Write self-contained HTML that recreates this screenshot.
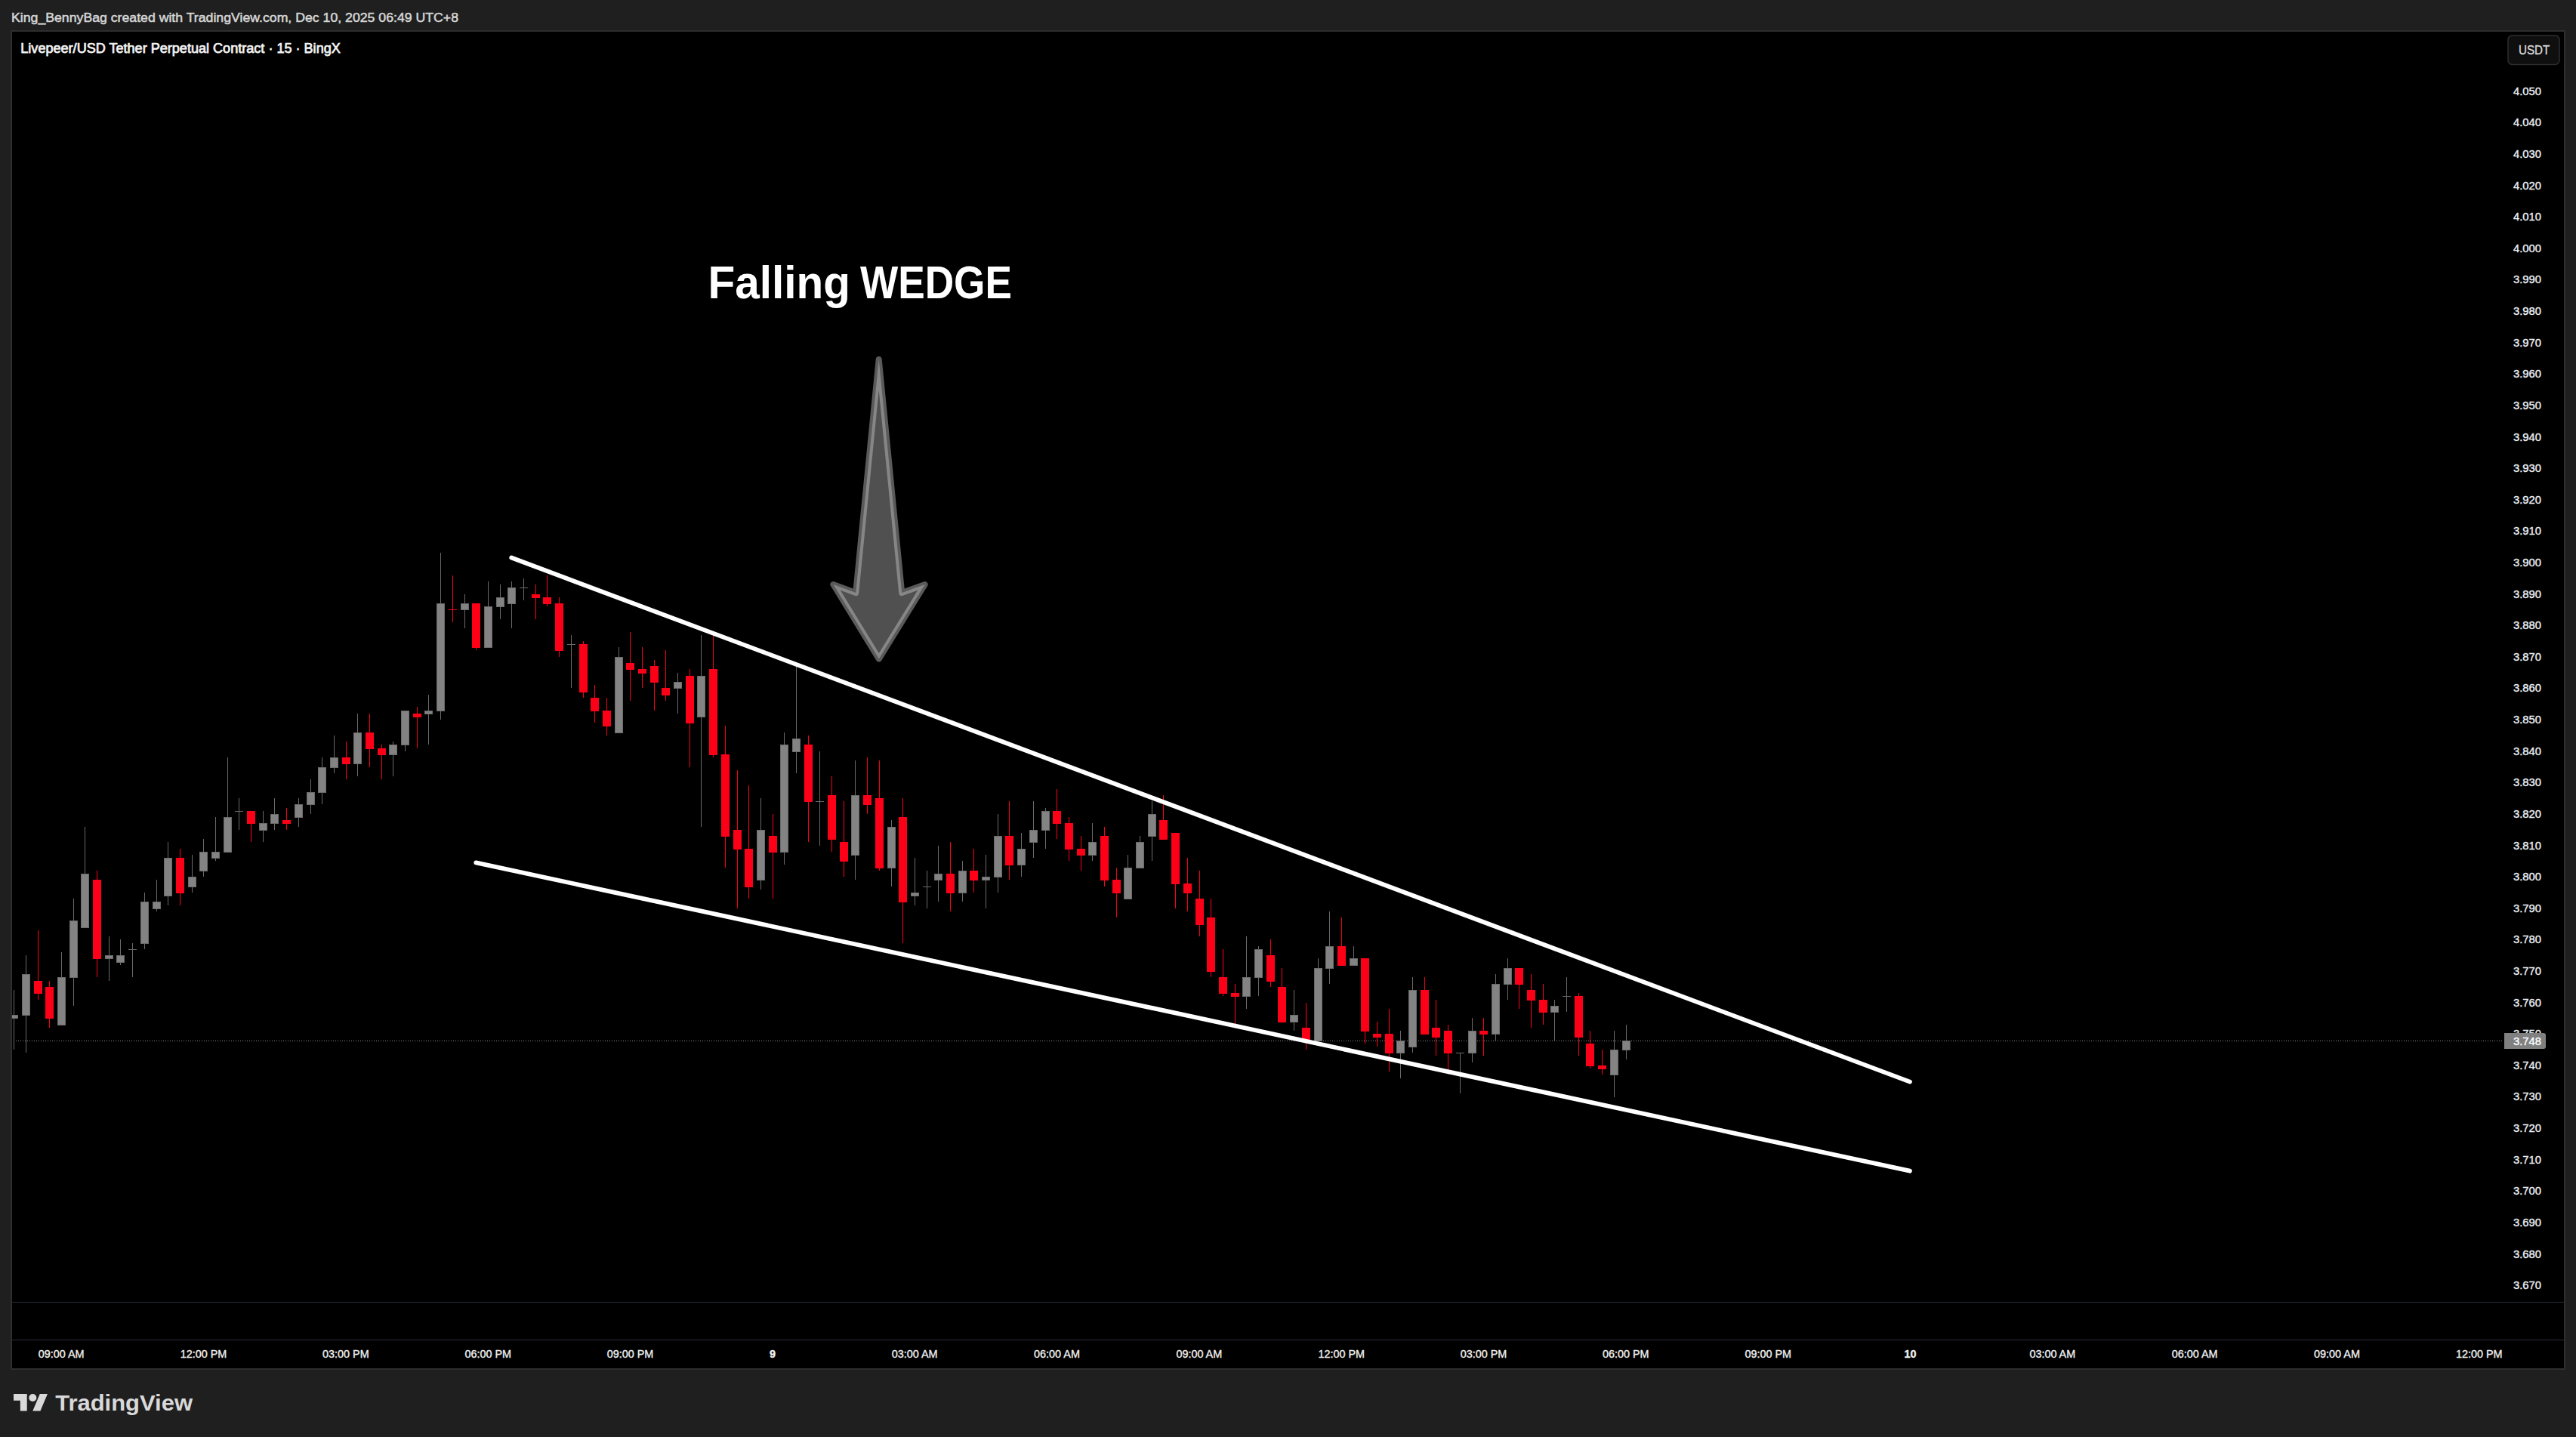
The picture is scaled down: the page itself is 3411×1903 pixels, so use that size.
<!DOCTYPE html>
<html lang="en"><head><meta charset="utf-8"><title>Falling WEDGE - TradingView</title>
<style>
html,body{margin:0;padding:0;background:#1f1f1f;}
body{width:3411px;height:1903px;overflow:hidden;position:relative;font-family:"Liberation Sans",sans-serif;}
#chart{position:absolute;left:14px;top:40px;width:3379px;height:1770px;border:2px solid #2e2e2e;background:#000;}
svg{position:absolute;left:0;top:0;}
svg text{font-family:"Liberation Sans",sans-serif;}
</style></head><body>
<div id="chart"></div>
<svg width="3411" height="1903" viewBox="0 0 3411 1903">
<defs>
<clipPath id="pane"><rect x="16" y="42" width="3379" height="1682"/></clipPath>
<clipPath id="arrowclip"><path d="M1163.7 476L1194.2 785L1224.7 774L1163.8 872.6L1103.4 774L1133.2 785Z"/></clipPath>
</defs>
<text x="15" y="29" font-size="17.3" fill="#d4d4d4" stroke="#d4d4d4" stroke-width="0.55" textLength="592" lengthAdjust="spacingAndGlyphs" id="hdr">King_BennyBag created with TradingView.com, Dec 10, 2025 06:49 UTC+8</text>
<text x="27.3" y="70.1" font-size="17.9" fill="#f2f2f2" stroke="#f2f2f2" stroke-width="0.75" textLength="423.5" lengthAdjust="spacingAndGlyphs" id="ttl">Livepeer/USD Tether Perpetual Contract · 15 · BingX</text>
<!-- separators -->
<rect x="16" y="1724" width="3379" height="1" fill="#2a2e39"/>
<rect x="16" y="1774" width="3379" height="1" fill="#2a2e39"/>
<!-- current price dotted line -->
<line x1="18" y1="1378.5" x2="3313" y2="1378.5" stroke="#8e8e8e" stroke-width="1" stroke-dasharray="1 2" shape-rendering="crispEdges"/>
<g clip-path="url(#pane)" shape-rendering="crispEdges">
<path fill="#6a6a6a" d="M18 1311h1V1390h-1zM13 1344h11V1349h-11z"/>
<path fill="#838383" d="M14 1345h9V1348h-9z"/>
<path fill="#6a6a6a" d="M34 1265h1V1394h-1zM29 1290h11V1345h-11z"/>
<path fill="#838383" d="M30 1291h9V1344h-9z"/>
<path fill="#fd0017" d="M50 1232h1V1324h-1zM45 1299h11V1316h-11z"/>
<path fill="#fd0017" d="M65 1299h1V1361h-1zM60 1307h11V1349h-11z"/>
<path fill="#6a6a6a" d="M81 1261h1V1358h-1zM76 1294h11V1358h-11z"/>
<path fill="#838383" d="M77 1295h9V1357h-9z"/>
<path fill="#6a6a6a" d="M97 1190h1V1332h-1zM92 1219h11V1295h-11z"/>
<path fill="#838383" d="M93 1220h9V1294h-9z"/>
<path fill="#6a6a6a" d="M112 1095h1V1229h-1zM107 1157h11V1229h-11z"/>
<path fill="#838383" d="M108 1158h9V1228h-9z"/>
<path fill="#fd0017" d="M128 1153h1V1294h-1zM123 1165h11V1270h-11z"/>
<path fill="#6a6a6a" d="M144 1240h1V1299h-1zM139 1265h11V1270h-11z"/>
<path fill="#838383" d="M140 1266h9V1269h-9z"/>
<path fill="#6a6a6a" d="M159 1244h1V1278h-1zM154 1265h11V1275h-11z"/>
<path fill="#838383" d="M155 1266h9V1274h-9z"/>
<path fill="#6a6a6a" d="M175 1249h1V1294h-1zM170 1257h11V1258h-11z"/>
<path fill="#6a6a6a" d="M191 1182h1V1257h-1zM186 1194h11V1250h-11z"/>
<path fill="#838383" d="M187 1195h9V1249h-9z"/>
<path fill="#6a6a6a" d="M207 1165h1V1207h-1zM202 1194h11V1204h-11z"/>
<path fill="#838383" d="M203 1195h9V1203h-9z"/>
<path fill="#6a6a6a" d="M222 1115h1V1199h-1zM217 1136h11V1187h-11z"/>
<path fill="#838383" d="M218 1137h9V1186h-9z"/>
<path fill="#fd0017" d="M238 1124h1V1199h-1zM233 1136h11V1183h-11z"/>
<path fill="#6a6a6a" d="M254 1132h1V1182h-1zM249 1161h11V1175h-11z"/>
<path fill="#838383" d="M250 1162h9V1174h-9z"/>
<path fill="#6a6a6a" d="M269 1111h1V1161h-1zM264 1128h11V1154h-11z"/>
<path fill="#838383" d="M265 1129h9V1153h-9z"/>
<path fill="#6a6a6a" d="M285 1082h1V1140h-1zM280 1128h11V1137h-11z"/>
<path fill="#838383" d="M281 1129h9V1136h-9z"/>
<path fill="#6a6a6a" d="M301 1003h1V1129h-1zM296 1082h11V1129h-11z"/>
<path fill="#838383" d="M297 1083h9V1128h-9z"/>
<path fill="#6a6a6a" d="M316 1057h1V1099h-1zM311 1074h11V1075h-11z"/>
<path fill="#fd0017" d="M332 1074h1V1115h-1zM327 1074h11V1091h-11z"/>
<path fill="#6a6a6a" d="M348 1074h1V1115h-1zM343 1090h11V1100h-11z"/>
<path fill="#838383" d="M344 1091h9V1099h-9z"/>
<path fill="#6a6a6a" d="M363 1057h1V1099h-1zM358 1078h11V1091h-11z"/>
<path fill="#838383" d="M359 1079h9V1090h-9z"/>
<path fill="#fd0017" d="M379 1070h1V1099h-1zM374 1086h11V1091h-11z"/>
<path fill="#6a6a6a" d="M395 1057h1V1095h-1zM390 1065h11V1083h-11z"/>
<path fill="#838383" d="M391 1066h9V1082h-9z"/>
<path fill="#6a6a6a" d="M411 1032h1V1078h-1zM406 1049h11V1066h-11z"/>
<path fill="#838383" d="M407 1050h9V1065h-9z"/>
<path fill="#6a6a6a" d="M426 1003h1V1065h-1zM421 1016h11V1050h-11z"/>
<path fill="#838383" d="M422 1017h9V1049h-9z"/>
<path fill="#6a6a6a" d="M442 974h1V1024h-1zM437 1003h11V1017h-11z"/>
<path fill="#838383" d="M438 1004h9V1016h-9z"/>
<path fill="#fd0017" d="M458 982h1V1032h-1zM453 1003h11V1012h-11z"/>
<path fill="#6a6a6a" d="M473 945h1V1028h-1zM468 970h11V1012h-11z"/>
<path fill="#838383" d="M469 971h9V1011h-9z"/>
<path fill="#fd0017" d="M489 945h1V1016h-1zM484 970h11V992h-11z"/>
<path fill="#fd0017" d="M505 986h1V1032h-1zM500 991h11V1000h-11z"/>
<path fill="#6a6a6a" d="M520 982h1V1028h-1zM515 986h11V1000h-11z"/>
<path fill="#838383" d="M516 987h9V999h-9z"/>
<path fill="#6a6a6a" d="M536 941h1V995h-1zM531 941h11V987h-11z"/>
<path fill="#838383" d="M532 942h9V986h-9z"/>
<path fill="#fd0017" d="M552 936h1V991h-1zM547 945h11V950h-11z"/>
<path fill="#6a6a6a" d="M567 920h1V986h-1zM562 941h11V946h-11z"/>
<path fill="#838383" d="M563 942h9V945h-9z"/>
<path fill="#6a6a6a" d="M583 732h1V953h-1zM578 799h11V942h-11z"/>
<path fill="#838383" d="M579 800h9V941h-9z"/>
<path fill="#fd0017" d="M599 762h1V824h-1zM594 807h11V808h-11z"/>
<path fill="#6a6a6a" d="M615 787h1V832h-1zM610 799h11V808h-11z"/>
<path fill="#838383" d="M611 800h9V807h-9z"/>
<path fill="#fd0017" d="M630 799h1V861h-1zM625 799h11V858h-11z"/>
<path fill="#6a6a6a" d="M646 770h1V858h-1zM641 803h11V858h-11z"/>
<path fill="#838383" d="M642 804h9V857h-9z"/>
<path fill="#6a6a6a" d="M662 774h1V820h-1zM657 791h11V804h-11z"/>
<path fill="#838383" d="M658 792h9V803h-9z"/>
<path fill="#6a6a6a" d="M677 770h1V832h-1zM672 778h11V800h-11z"/>
<path fill="#838383" d="M673 779h9V799h-9z"/>
<path fill="#6a6a6a" d="M693 766h1V795h-1zM688 778h11V779h-11z"/>
<path fill="#fd0017" d="M709 774h1V820h-1zM704 787h11V792h-11z"/>
<path fill="#fd0017" d="M724 762h1V803h-1zM719 791h11V800h-11z"/>
<path fill="#fd0017" d="M740 791h1V870h-1zM735 799h11V862h-11z"/>
<path fill="#6a6a6a" d="M756 841h1V911h-1zM751 853h11V854h-11z"/>
<path fill="#fd0017" d="M772 849h1V924h-1zM767 853h11V917h-11z"/>
<path fill="#fd0017" d="M787 907h1V957h-1zM782 924h11V942h-11z"/>
<path fill="#fd0017" d="M803 924h1V974h-1zM798 941h11V962h-11z"/>
<path fill="#6a6a6a" d="M819 857h1V971h-1zM814 870h11V971h-11z"/>
<path fill="#838383" d="M815 871h9V970h-9z"/>
<path fill="#fd0017" d="M834 837h1V928h-1zM829 878h11V887h-11z"/>
<path fill="#fd0017" d="M850 857h1V911h-1zM845 886h11V892h-11z"/>
<path fill="#fd0017" d="M866 874h1V941h-1zM861 882h11V904h-11z"/>
<path fill="#fd0017" d="M881 861h1V928h-1zM876 911h11V921h-11z"/>
<path fill="#6a6a6a" d="M897 891h1V945h-1zM892 903h11V912h-11z"/>
<path fill="#838383" d="M893 904h9V911h-9z"/>
<path fill="#fd0017" d="M913 886h1V1016h-1zM908 895h11V958h-11z"/>
<path fill="#6a6a6a" d="M928 841h1V1095h-1zM923 895h11V950h-11z"/>
<path fill="#838383" d="M924 896h9V949h-9z"/>
<path fill="#fd0017" d="M944 841h1V1003h-1zM939 886h11V1000h-11z"/>
<path fill="#fd0017" d="M960 961h1V1149h-1zM955 999h11V1108h-11z"/>
<path fill="#fd0017" d="M976 1020h1V1203h-1zM971 1099h11V1125h-11z"/>
<path fill="#fd0017" d="M991 1040h1V1190h-1zM986 1124h11V1175h-11z"/>
<path fill="#6a6a6a" d="M1007 1057h1V1178h-1zM1002 1099h11V1166h-11z"/>
<path fill="#838383" d="M1003 1100h9V1165h-9z"/>
<path fill="#fd0017" d="M1023 1078h1V1190h-1zM1018 1107h11V1129h-11z"/>
<path fill="#6a6a6a" d="M1038 970h1V1145h-1zM1033 986h11V1129h-11z"/>
<path fill="#838383" d="M1034 987h9V1128h-9z"/>
<path fill="#6a6a6a" d="M1054 882h1V1024h-1zM1049 978h11V996h-11z"/>
<path fill="#838383" d="M1050 979h9V995h-9z"/>
<path fill="#fd0017" d="M1070 974h1V1115h-1zM1065 986h11V1062h-11z"/>
<path fill="#6a6a6a" d="M1085 995h1V1120h-1zM1080 1061h11V1062h-11z"/>
<path fill="#fd0017" d="M1101 1028h1V1128h-1zM1096 1053h11V1112h-11z"/>
<path fill="#fd0017" d="M1117 1061h1V1161h-1zM1112 1115h11V1141h-11z"/>
<path fill="#6a6a6a" d="M1132 1007h1V1165h-1zM1127 1053h11V1133h-11z"/>
<path fill="#838383" d="M1128 1054h9V1132h-9z"/>
<path fill="#fd0017" d="M1148 1003h1V1078h-1zM1143 1053h11V1066h-11z"/>
<path fill="#fd0017" d="M1164 1007h1V1153h-1zM1159 1057h11V1150h-11z"/>
<path fill="#6a6a6a" d="M1180 1086h1V1174h-1zM1175 1095h11V1150h-11z"/>
<path fill="#838383" d="M1176 1096h9V1149h-9z"/>
<path fill="#fd0017" d="M1195 1057h1V1249h-1zM1190 1082h11V1195h-11z"/>
<path fill="#6a6a6a" d="M1211 1136h1V1199h-1zM1206 1182h11V1187h-11z"/>
<path fill="#838383" d="M1207 1183h9V1186h-9z"/>
<path fill="#6a6a6a" d="M1227 1153h1V1203h-1zM1222 1174h11V1175h-11z"/>
<path fill="#6a6a6a" d="M1242 1120h1V1194h-1zM1237 1157h11V1166h-11z"/>
<path fill="#838383" d="M1238 1158h9V1165h-9z"/>
<path fill="#fd0017" d="M1258 1115h1V1207h-1zM1253 1157h11V1183h-11z"/>
<path fill="#6a6a6a" d="M1274 1140h1V1194h-1zM1269 1153h11V1183h-11z"/>
<path fill="#838383" d="M1270 1154h9V1182h-9z"/>
<path fill="#fd0017" d="M1289 1124h1V1182h-1zM1284 1153h11V1166h-11z"/>
<path fill="#6a6a6a" d="M1305 1132h1V1203h-1zM1300 1161h11V1166h-11z"/>
<path fill="#838383" d="M1301 1162h9V1165h-9z"/>
<path fill="#6a6a6a" d="M1321 1078h1V1182h-1zM1316 1107h11V1162h-11z"/>
<path fill="#838383" d="M1317 1108h9V1161h-9z"/>
<path fill="#fd0017" d="M1336 1061h1V1165h-1zM1331 1107h11V1146h-11z"/>
<path fill="#6a6a6a" d="M1352 1103h1V1161h-1zM1347 1124h11V1146h-11z"/>
<path fill="#838383" d="M1348 1125h9V1145h-9z"/>
<path fill="#6a6a6a" d="M1368 1061h1V1136h-1zM1363 1099h11V1116h-11z"/>
<path fill="#838383" d="M1364 1100h9V1115h-9z"/>
<path fill="#6a6a6a" d="M1384 1070h1V1124h-1zM1379 1074h11V1100h-11z"/>
<path fill="#838383" d="M1380 1075h9V1099h-9z"/>
<path fill="#fd0017" d="M1399 1045h1V1111h-1zM1394 1074h11V1091h-11z"/>
<path fill="#fd0017" d="M1415 1082h1V1140h-1zM1410 1090h11V1125h-11z"/>
<path fill="#fd0017" d="M1431 1107h1V1153h-1zM1426 1124h11V1133h-11z"/>
<path fill="#6a6a6a" d="M1446 1090h1V1140h-1zM1441 1115h11V1133h-11z"/>
<path fill="#838383" d="M1442 1116h9V1132h-9z"/>
<path fill="#fd0017" d="M1462 1095h1V1174h-1zM1457 1107h11V1166h-11z"/>
<path fill="#fd0017" d="M1478 1149h1V1215h-1zM1473 1165h11V1183h-11z"/>
<path fill="#6a6a6a" d="M1493 1132h1V1191h-1zM1488 1149h11V1191h-11z"/>
<path fill="#838383" d="M1489 1150h9V1190h-9z"/>
<path fill="#6a6a6a" d="M1509 1107h1V1150h-1zM1504 1115h11V1150h-11z"/>
<path fill="#838383" d="M1505 1116h9V1149h-9z"/>
<path fill="#6a6a6a" d="M1525 1061h1V1140h-1zM1520 1078h11V1108h-11z"/>
<path fill="#838383" d="M1521 1079h9V1107h-9z"/>
<path fill="#fd0017" d="M1540 1053h1V1112h-1zM1535 1086h11V1112h-11z"/>
<path fill="#fd0017" d="M1556 1103h1V1203h-1zM1551 1103h11V1171h-11z"/>
<path fill="#fd0017" d="M1572 1136h1V1207h-1zM1567 1170h11V1183h-11z"/>
<path fill="#fd0017" d="M1588 1153h1V1240h-1zM1583 1190h11V1225h-11z"/>
<path fill="#fd0017" d="M1603 1190h1V1294h-1zM1598 1215h11V1287h-11z"/>
<path fill="#fd0017" d="M1619 1257h1V1319h-1zM1614 1294h11V1316h-11z"/>
<path fill="#fd0017" d="M1635 1303h1V1361h-1zM1630 1315h11V1320h-11z"/>
<path fill="#6a6a6a" d="M1650 1240h1V1336h-1zM1645 1294h11V1320h-11z"/>
<path fill="#838383" d="M1646 1295h9V1319h-9z"/>
<path fill="#6a6a6a" d="M1666 1253h1V1319h-1zM1661 1257h11V1295h-11z"/>
<path fill="#838383" d="M1662 1258h9V1294h-9z"/>
<path fill="#fd0017" d="M1682 1244h1V1307h-1zM1677 1265h11V1300h-11z"/>
<path fill="#fd0017" d="M1697 1282h1V1354h-1zM1692 1307h11V1354h-11z"/>
<path fill="#6a6a6a" d="M1713 1311h1V1365h-1zM1708 1344h11V1354h-11z"/>
<path fill="#838383" d="M1709 1345h9V1353h-9z"/>
<path fill="#fd0017" d="M1729 1328h1V1390h-1zM1724 1361h11V1379h-11z"/>
<path fill="#6a6a6a" d="M1745 1269h1V1379h-1zM1740 1282h11V1379h-11z"/>
<path fill="#838383" d="M1741 1283h9V1378h-9z"/>
<path fill="#6a6a6a" d="M1760 1207h1V1303h-1zM1755 1253h11V1283h-11z"/>
<path fill="#838383" d="M1756 1254h9V1282h-9z"/>
<path fill="#fd0017" d="M1776 1215h1V1279h-1zM1771 1253h11V1279h-11z"/>
<path fill="#6a6a6a" d="M1792 1253h1V1279h-1zM1787 1269h11V1279h-11z"/>
<path fill="#838383" d="M1788 1270h9V1278h-9z"/>
<path fill="#fd0017" d="M1807 1269h1V1382h-1zM1802 1269h11V1366h-11z"/>
<path fill="#fd0017" d="M1823 1353h1V1386h-1zM1818 1369h11V1374h-11z"/>
<path fill="#fd0017" d="M1839 1336h1V1419h-1zM1834 1369h11V1395h-11z"/>
<path fill="#6a6a6a" d="M1854 1365h1V1428h-1zM1849 1378h11V1395h-11z"/>
<path fill="#838383" d="M1850 1379h9V1394h-9z"/>
<path fill="#6a6a6a" d="M1870 1294h1V1394h-1zM1865 1311h11V1387h-11z"/>
<path fill="#838383" d="M1866 1312h9V1386h-9z"/>
<path fill="#fd0017" d="M1886 1294h1V1370h-1zM1881 1311h11V1370h-11z"/>
<path fill="#fd0017" d="M1901 1324h1V1398h-1zM1896 1361h11V1374h-11z"/>
<path fill="#fd0017" d="M1917 1357h1V1423h-1zM1912 1365h11V1395h-11z"/>
<path fill="#6a6a6a" d="M1933 1394h1V1448h-1zM1928 1394h11V1395h-11z"/>
<path fill="#6a6a6a" d="M1949 1348h1V1407h-1zM1944 1365h11V1395h-11z"/>
<path fill="#838383" d="M1945 1366h9V1394h-9z"/>
<path fill="#fd0017" d="M1964 1348h1V1398h-1zM1959 1365h11V1370h-11z"/>
<path fill="#6a6a6a" d="M1980 1290h1V1379h-1zM1975 1303h11V1370h-11z"/>
<path fill="#838383" d="M1976 1304h9V1369h-9z"/>
<path fill="#6a6a6a" d="M1996 1269h1V1324h-1zM1991 1282h11V1304h-11z"/>
<path fill="#838383" d="M1992 1283h9V1303h-9z"/>
<path fill="#fd0017" d="M2011 1282h1V1336h-1zM2006 1282h11V1304h-11z"/>
<path fill="#fd0017" d="M2027 1290h1V1361h-1zM2022 1311h11V1325h-11z"/>
<path fill="#fd0017" d="M2043 1303h1V1357h-1zM2038 1324h11V1341h-11z"/>
<path fill="#6a6a6a" d="M2058 1324h1V1379h-1zM2053 1332h11V1341h-11z"/>
<path fill="#838383" d="M2054 1333h9V1340h-9z"/>
<path fill="#6a6a6a" d="M2074 1294h1V1340h-1zM2069 1319h11V1320h-11z"/>
<path fill="#fd0017" d="M2090 1315h1V1398h-1zM2085 1319h11V1374h-11z"/>
<path fill="#fd0017" d="M2105 1365h1V1415h-1zM2100 1382h11V1412h-11z"/>
<path fill="#fd0017" d="M2121 1390h1V1423h-1zM2116 1411h11V1416h-11z"/>
<path fill="#6a6a6a" d="M2137 1365h1V1453h-1zM2132 1390h11V1424h-11z"/>
<path fill="#838383" d="M2133 1391h9V1423h-9z"/>
<path fill="#6a6a6a" d="M2153 1357h1V1403h-1zM2148 1378h11V1391h-11z"/>
<path fill="#838383" d="M2149 1379h9V1390h-9z"/>
</g>
<!-- wedge lines -->
<g stroke="#fff" stroke-width="5.8" stroke-linecap="round" fill="none">
<line x1="677.2" y1="738.5" x2="2529" y2="1432.6"/>
<line x1="630.3" y1="1142.4" x2="2529" y2="1550.7"/>
</g>
<!-- arrow -->
<path d="M1163.7 476L1194.2 785L1224.7 774L1163.8 872.6L1103.4 774L1133.2 785Z" fill="#505050" stroke="#5a5a5a" stroke-width="8" stroke-linejoin="round"/>
<path d="M1163.7 476L1194.2 785L1224.7 774L1163.8 872.6L1103.4 774L1133.2 785Z" fill="none" stroke="#868686" stroke-width="8" stroke-linejoin="round" clip-path="url(#arrowclip)"/>
<text y="395.4" font-size="60.8" font-weight="700" fill="#fff" id="fw"><tspan x="937.5" textLength="188.5" lengthAdjust="spacingAndGlyphs">Falling</tspan> <tspan x="1139" textLength="201" lengthAdjust="spacingAndGlyphs">WEDGE</tspan></text>
<!-- price axis -->
<g font-size="14.8" fill="#f0f0f0" stroke="#f0f0f0" stroke-width="0.35" id="plab">
<text x="3328" y="125.7">4.050</text>
<text x="3328" y="167.3">4.040</text>
<text x="3328" y="208.9">4.030</text>
<text x="3328" y="250.5">4.020</text>
<text x="3328" y="292.2">4.010</text>
<text x="3328" y="333.8">4.000</text>
<text x="3328" y="375.4">3.990</text>
<text x="3328" y="417.0">3.980</text>
<text x="3328" y="458.6">3.970</text>
<text x="3328" y="500.2">3.960</text>
<text x="3328" y="541.9">3.950</text>
<text x="3328" y="583.5">3.940</text>
<text x="3328" y="625.1">3.930</text>
<text x="3328" y="666.7">3.920</text>
<text x="3328" y="708.3">3.910</text>
<text x="3328" y="749.9">3.900</text>
<text x="3328" y="791.5">3.890</text>
<text x="3328" y="833.2">3.880</text>
<text x="3328" y="874.8">3.870</text>
<text x="3328" y="916.4">3.860</text>
<text x="3328" y="958.0">3.850</text>
<text x="3328" y="999.6">3.840</text>
<text x="3328" y="1041.2">3.830</text>
<text x="3328" y="1082.8">3.820</text>
<text x="3328" y="1124.5">3.810</text>
<text x="3328" y="1166.1">3.800</text>
<text x="3328" y="1207.7">3.790</text>
<text x="3328" y="1249.3">3.780</text>
<text x="3328" y="1290.9">3.770</text>
<text x="3328" y="1332.5">3.760</text>
<text x="3328" y="1374.2">3.750</text>
<text x="3328" y="1415.8">3.740</text>
<text x="3328" y="1457.4">3.730</text>
<text x="3328" y="1499.0">3.720</text>
<text x="3328" y="1540.6">3.710</text>
<text x="3328" y="1582.2">3.700</text>
<text x="3328" y="1623.8">3.690</text>
<text x="3328" y="1665.5">3.680</text>
<text x="3328" y="1707.1">3.670</text>
</g>
<path d="M3316 1368h52a3 3 0 0 1 3 3v15a3 3 0 0 1 -3 3h-52z" fill="#808080"/>
<text x="3328" y="1384.1" font-size="14.8" fill="#fff" stroke="#fff" stroke-width="0.35">3.748</text>
<!-- USDT button -->
<rect x="3321" y="47" width="68" height="38.500" rx="5.5" fill="#0f0f0f" stroke="#2e2e2e" stroke-width="1.5"/>
<text x="3335" y="72.1" font-size="17.3" fill="#d8d8d8" stroke="#d8d8d8" stroke-width="0.4" textLength="41.3" lengthAdjust="spacingAndGlyphs" id="usdt">USDT</text>
<!-- time axis -->
<g font-size="14.4" fill="#f0f0f0" stroke="#f0f0f0" stroke-width="0.35" text-anchor="middle" id="tlab">
<text x="81.2" y="1797.6">09:00 AM</text>
<text x="269.5" y="1797.6">12:00 PM</text>
<text x="457.9" y="1797.6">03:00 PM</text>
<text x="646.2" y="1797.6">06:00 PM</text>
<text x="834.5" y="1797.6">09:00 PM</text>
<text x="1022.9" y="1797.6" font-weight="700">9</text>
<text x="1211.2" y="1797.6">03:00 AM</text>
<text x="1399.5" y="1797.6">06:00 AM</text>
<text x="1587.8" y="1797.6">09:00 AM</text>
<text x="1776.2" y="1797.6">12:00 PM</text>
<text x="1964.5" y="1797.6">03:00 PM</text>
<text x="2152.8" y="1797.6">06:00 PM</text>
<text x="2341.2" y="1797.6">09:00 PM</text>
<text x="2529.5" y="1797.6" font-weight="700">10</text>
<text x="2717.8" y="1797.6">03:00 AM</text>
<text x="2906.2" y="1797.6">06:00 AM</text>
<text x="3094.5" y="1797.6">09:00 AM</text>
<text x="3282.8" y="1797.6">12:00 PM</text>
</g>
<!-- logo -->
<g fill="#d9d9d9" transform="translate(18 1841) scale(1.265 1.245)">
<path d="M14 22H7V11H0V4h14v18zM28 22h-8l7.5-18h8L28 22z"/><circle cx="20" cy="8" r="4"/>
</g>
<text x="73.2" y="1867.9" font-size="30" font-weight="700" fill="#d9d9d9" textLength="181.8" lengthAdjust="spacingAndGlyphs" id="tv">TradingView</text>
</svg>
</body></html>
